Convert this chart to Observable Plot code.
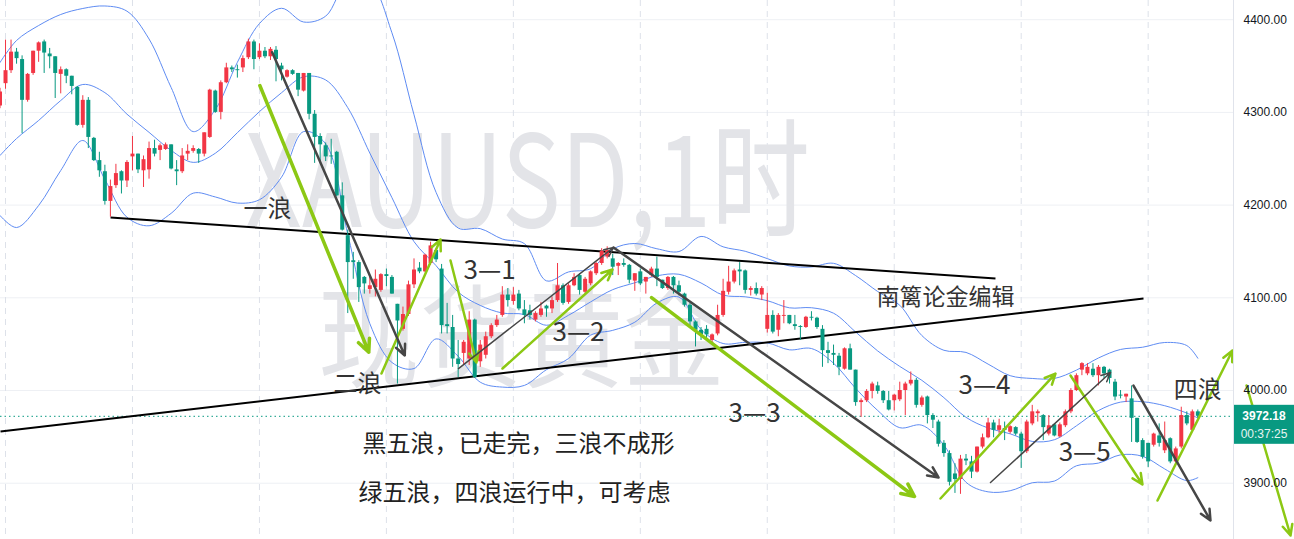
<!DOCTYPE html>
<html><head><meta charset="utf-8">
<script src="https://cdn.jsdelivr.net/npm/d3@7"></script>
<script src="https://cdn.jsdelivr.net/npm/@observablehq/plot@0.6"></script>
<style>
html,body{margin:0;padding:0;background:#fff;overflow:hidden}
#chart svg{display:block}
</style></head><body><div id="chart"></div>
<script>
// ---------- data (XAUUSD 1h candles) ----------
const opens = [4307,4331,4345,4365,4357,4313,4342,4366,4376,4363,4360,4341,4346,4339,4327,4286,4313,4272,4248,4236,
4204,4221,4236,4226,4252,4255,4237,4238,4261,4259,4260,4265,4238,4236,4255,4258,4260,4255,4273,4323,
4300,4332,4348,4346,4348,4359,4376,4359,4366,4360,4367,4350,4338,4345,4342,4323,4342,4298,4274,4264,
4253,4257,4210,4167,4140,4138,4122,4109,4111,4108,4125,4122,4093,4066,4082,4114,4132,4128,4137,4151,
4131,4071,4068,4034,4040,4034,4076,4031,4038,4058,4070,4081,4103,4096,4104,4087,4086,4076,4081,4091,
4088,4097,4113,4095,4113,4124,4106,4115,4126,4137,4144,4142,4134,4137,4135,4118,4128,4117,4124,4131,
4119,4110,4122,4113,4104,4092,4074,4065,4066,4054,4061,4081,4106,4117,4130,4129,4108,4110,4103,4066,
4081,4065,4080,4081,4071,4069,4068,4079,4078,4066,4043,4040,4037,4023,4045,4022,3987,3989,3999,4005,
3999,3989,3989,3990,4000,4007,4011,3984,3993,3973,3966,3943,3932,3910,3904,3926,3923,3912,3939,3949,
3965,3957,3959,3955,3960,3953,3934,3964,3975,3973,3953,3963,3950,3962,3977,4000,4022,4018,4023,4016,
4025,4022,4009,3995,3993,3991,3970,3946,3943,3941,3951,3935,3948,3923,3939,3973,3957,3977];
const highs = [4326,4378,4378,4369,4361,4342,4366,4376,4378,4369,4360,4349,4347,4339,4328,4318,4316,4273,4257,4243,
4227,4244,4237,4248,4274,4255,4253,4268,4270,4266,4267,4265,4248,4261,4265,4264,4261,4278,4325,4324,
4334,4353,4350,4351,4361,4379,4378,4374,4370,4370,4371,4353,4346,4346,4342,4342,4342,4302,4277,4267,
4271,4258,4224,4173,4149,4140,4123,4122,4130,4126,4131,4124,4093,4090,4118,4142,4138,4147,4160,4153,
4136,4094,4081,4054,4054,4085,4077,4054,4063,4072,4081,4112,4110,4111,4108,4097,4092,4085,4095,4092,
4101,4137,4115,4115,4126,4126,4122,4129,4138,4153,4155,4147,4138,4142,4136,4126,4131,4122,4133,4144,
4119,4123,4123,4118,4105,4094,4075,4068,4070,4061,4092,4120,4134,4131,4138,4130,4112,4116,4112,4105,
4086,4083,4097,4081,4081,4070,4080,4085,4079,4070,4052,4049,4040,4046,4050,4022,3991,4001,4009,4009,
4000,3999,3996,4009,4009,4020,4013,3994,3994,3975,3968,3946,3935,3921,3930,3931,3929,3939,3953,3970,
3968,3969,3966,3962,3961,3955,3968,3984,3979,3974,3973,3964,3965,3979,4002,4018,4030,4029,4029,4027,
4026,4023,4012,4000,3996,4005,3970,3948,3943,3954,3964,3966,3949,3939,3982,3977,3979,3979];
const lows = [4304,4325,4342,4352,4277,4311,4340,4354,4342,4347,4315,4320,4331,4319,4285,4283,4261,4247,4230,4200,
4187,4218,4212,4219,4237,4234,4219,4228,4252,4248,4259,4238,4221,4234,4248,4256,4245,4252,4272,4299,
4292,4331,4343,4337,4343,4357,4346,4357,4358,4356,4333,4334,4337,4340,4317,4322,4292,4245,4245,4247,
4244,4209,4172,4083,4120,4095,4104,4104,4101,4106,4112,4104,4007,4064,4080,4110,4126,4127,4135,4138,
4061,4061,4025,4014,4027,4027,4013,4025,4034,4056,4068,4079,4090,4092,4086,4072,4076,4074,4079,4079,
4083,4095,4092,4093,4112,4103,4104,4113,4124,4135,4142,4124,4124,4133,4115,4107,4113,4104,4122,4112,
4109,4108,4104,4102,4090,4070,4047,4054,4054,4050,4059,4079,4103,4115,4113,4104,4102,4102,4097,4062,
4061,4058,4072,4071,4065,4054,4067,4075,4066,4025,4029,4027,4016,4022,4022,3983,3971,3987,3991,3996,
3986,3978,3978,3988,3973,4005,3981,3982,3964,3959,3939,3928,3897,3889,3888,3919,3905,3911,3937,3948,
3949,3953,3946,3953,3951,3916,3932,3962,3966,3946,3951,3950,3949,3960,3975,3999,4016,4016,4014,4005,
4013,4007,3989,3991,3987,3944,3943,3926,3917,3939,3939,3932,3921,3921,3937,3962,3955,3970];
const closes = [4322,4345,4365,4358,4313,4341,4366,4375,4364,4360,4342,4346,4339,4328,4286,4313,4273,4248,4237,4204,
4220,4234,4226,4246,4255,4238,4249,4261,4255,4264,4265,4239,4236,4253,4258,4261,4255,4278,4324,4300,
4332,4348,4346,4345,4358,4376,4357,4366,4360,4368,4357,4346,4345,4341,4324,4342,4298,4273,4265,4252,
4252,4210,4173,4138,4138,4111,4115,4113,4120,4125,4123,4104,4075,4082,4114,4130,4128,4146,4156,4141,
4070,4069,4034,4028,4052,4076,4014,4049,4058,4070,4076,4103,4097,4103,4088,4081,4081,4083,4088,4088,
4097,4113,4094,4113,4122,4108,4120,4128,4137,4150,4151,4133,4137,4135,4119,4126,4115,4122,4131,4122,
4110,4122,4113,4106,4092,4074,4065,4060,4060,4060,4081,4107,4117,4129,4128,4108,4110,4104,4110,4081,
4063,4081,4081,4072,4069,4068,4079,4078,4068,4043,4040,4038,4025,4045,4022,3987,3989,3999,4007,3999,
3989,3979,3995,4000,4007,4011,3984,3992,3973,3968,3942,3932,3901,3904,3926,3924,3912,3939,3949,3965,
3957,3962,3957,3961,3953,3934,3966,3977,3977,3960,3962,3951,3963,3977,4000,4016,4029,4025,4016,4025,
4018,4013,3993,3994,3996,3970,3944,3928,3923,3953,3943,3946,3923,3937,3973,3964,3977,3972.18];
const lastPrice = 3972.18;
const countdown = "00:37:25";
const dayStarts = [1,24,47,70,93,116,139,162,185,208];
const priceTicks = [3900,4000,4100,4200,4300,4400];

const bbIndex  = [0,3,7,11,15,19,23,27,31,35,39,43,47,51,55,59,63,67,71,75,79,83,87,91,95,99,103,107,111,115,119,123,127,131,135,139,143,147,151,155,159,163,167,171,175,179,183,187,191,195,199,203,207,211,215,217];
const bbUpper  = [4353.8,4377.6,4393.7,4405.6,4412.1,4414.8,4409.2,4379.2,4326.9,4279.3,4303.0,4354.0,4395.8,4412.3,4397.5,4403.8,4441.4,4440.0,4385.9,4297.4,4213.7,4175.3,4174.6,4163.4,4158.4,4118.3,4127.9,4131.4,4152.6,4158.6,4152.9,4149.9,4166.2,4155.0,4150.2,4142.3,4134.4,4133.3,4137.2,4124.0,4106.8,4092.0,4059.3,4043.4,4041.1,4028.5,4016.0,4013.0,4013.0,4022.0,4035.1,4044.3,4046.7,4051.8,4048.5,4034.8];
const bbMiddle = [4253.5,4271.8,4291.3,4312.8,4330.1,4321.3,4298.1,4278.5,4259.0,4246.1,4255.9,4278.1,4300.8,4321.2,4338.4,4335.0,4305.1,4256.1,4208.1,4160.6,4134.7,4106.1,4091.8,4083.6,4082.0,4070.4,4081.2,4095.6,4108.8,4116.2,4123.7,4125.4,4116.0,4102.9,4101.1,4096.9,4089.2,4089.3,4083.4,4063.2,4042.7,4026.0,4011.0,3992.3,3971.1,3959.6,3953.3,3945.1,3946.9,3961.9,3978.4,3987.5,3987.9,3983.6,3975.7,3970.4];
const bbLower  = [4188.8,4175.8,4199.6,4237.3,4269.7,4227.7,4186.9,4177.7,4191.1,4212.9,4208.8,4202.2,4205.8,4230.1,4279.3,4266.1,4168.7,4072.1,4030.3,4023.7,4055.7,4036.9,4009.0,4003.7,4005.5,4022.5,4034.5,4059.7,4064.9,4073.7,4094.4,4100.8,4065.8,4050.7,4052.0,4051.4,4043.9,4045.3,4029.5,4002.4,3978.5,3959.9,3962.6,3941.1,3901.0,3890.7,3891.9,3900.5,3902.3,3918.8,3921.7,3930.6,3929.0,3915.4,3902.8,3906.0];

// drawings: [startIndex, startPrice, endIndex, endPrice]
const trendLines       = [[20.02,4186.6,180.34,4120.8],[0.09,3955.8,207.16,4099.2]];
const greenArrowsThick = [[47.07,4329.0,66.81,4041.3],[118.03,4100.3,165.67,3885.7]];
const greenArrows      = [[69.11,4018.3,79.80,4162.9],[81.61,4140.2,86.32,4030.2],[91.03,4023.7,110.96,4130.5],
                          [170.38,3883.5,191.21,4018.3],[193.93,4016.2,206.97,3898.6],[209.69,3881.35,223.28,4043.2],
                          [225.82,4005.4,233.79,3843.6]];
const darkArrows       = [[49.31,4364.9,73.33,4037.8],[111.14,4154.3,170.02,3906.2],[205.34,4005.4,219.29,3859.8]];
const darkArrowsThin   = [[83.06,4023.7,111.14,4154.3],[179.44,3900.8,201.18,4019.4]];

const waveLabels  = ["一浪","二浪","3—1","3—2","3—3","3—4","3—5","四浪"];
const waveLabelX  = [48.46,64.76,88.68,104.8,136.7,178.35,196.5,217.0];
const waveLabelY  = [4195.2,4006.5,4129.5,4062.0,3975.2,4005.4,3933.1,4000.0];
const editorText  = ["南篱论金编辑"];
const editorX     = [171.3];
const editorY     = [4100.3];
const noteLines   = ["黑五浪，已走完，三浪不成形","绿五浪，四浪运行中，可考虑"];
const noteX       = [65.67,64.95];
const noteY       = [3941.8,3888.9];
const watermark   = ["XAUUSD,1时","现货黄金"];
const watermarkX  = [95.56,94.47];
const watermarkY  = [4221.1,4050.7];

// ---------- layout / style ----------
const W = 1294, H = 539, MR = 61;
const RED = "#f23645", TEAL = "#089981", BAND = "#5f8cf3", LIME = "#8cc814", DARK = "#464646";
const CJK = "'Noto Sans CJK SC', 'Noto Sans', sans-serif";
const barStep = 5.52;          // px per candle
const xDomain = [0.5 / barStep, (W - MR + 0.5) / barStep];
const yDomain = [3839.3, 4420.7];

const candles = closes.map((c, i) => ({i, open: opens[i], high: highs[i], low: lows[i], close: c}));
const ups = candles.filter(d => d.close >= d.open);
const downs = candles.filter(d => d.close < d.open);
const bands = bbIndex.map((i, k) => ({i, upper: bbUpper[k], middle: bbMiddle[k], lower: bbLower[k]}));
const toRows = (arr, labels) => arr.map((t, k) => ({text: t, x: labels[0][k], y: labels[1][k]}));
const arrowOpts = (stroke, strokeWidth, headLength) => ({
  x1: d => d[0], y1: d => d[1], x2: d => d[2], y2: d => d[3],
  stroke, strokeWidth, headLength, headAngle: 50
});

const chart = Plot.plot({
  width: W, height: H,
  marginLeft: 0, marginRight: MR, marginTop: 0, marginBottom: 0,
  x: {type: "linear", domain: xDomain, axis: null},
  y: {domain: yDomain, axis: null},
  style: {background: "#fff", fontFamily: "'Liberation Sans', Arial, sans-serif"},
  marks: [
    Plot.gridY(priceTicks, {stroke: "#eef0f4", strokeOpacity: 1}),
    Plot.ruleX(dayStarts, {stroke: "#dde1e9", strokeDasharray: "6,5"}),
    Plot.text(toRows(watermark, [watermarkX, watermarkY]), {
      x: "x", y: "y", text: "text", fill: "#e3e4e8", fontFamily: CJK,
      fontSize: d => d.text.startsWith("X") ? 128 : 112
    }),
    Plot.line(bands, {x: "i", y: "upper", stroke: BAND, strokeWidth: 1, curve: "catmull-rom"}),
    Plot.line(bands, {x: "i", y: "middle", stroke: BAND, strokeWidth: 1, curve: "catmull-rom"}),
    Plot.line(bands, {x: "i", y: "lower", stroke: BAND, strokeWidth: 1, curve: "catmull-rom"}),
    Plot.ruleY([lastPrice], {stroke: TEAL, strokeDasharray: "1.5,3", strokeWidth: 1}),
    Plot.link(trendLines, {x1: d => d[0], y1: d => d[1], x2: d => d[2], y2: d => d[3], stroke: "#000", strokeWidth: 2}),
    Plot.ruleX(ups, {x: "i", y1: "low", y2: "high", stroke: RED, strokeWidth: 1}),
    Plot.ruleX(downs, {x: "i", y1: "low", y2: "high", stroke: TEAL, strokeWidth: 1}),
    Plot.ruleX(ups, {x: "i", y1: "open", y2: "close", stroke: RED, strokeWidth: 4}),
    Plot.ruleX(downs, {x: "i", y1: "open", y2: "close", stroke: TEAL, strokeWidth: 4}),
    Plot.arrow(greenArrowsThick, arrowOpts(LIME, 3.5, 6)),
    Plot.arrow(greenArrows, arrowOpts(LIME, 2.5, 7)),
    Plot.arrow(darkArrows, arrowOpts(DARK, 2.5, 7)),
    Plot.arrow(darkArrowsThin, arrowOpts(DARK, 1.5, 10)),
    Plot.text(toRows(waveLabels, [waveLabelX, waveLabelY]), {
      x: "x", y: "y", text: "text", fill: "#333", fontFamily: CJK,
      fontSize: d => /^\d/.test(d.text) ? 26 : 24
    }),
    Plot.text(toRows(editorText, [editorX, editorY]), {x: "x", y: "y", text: "text", fill: "#333", fontFamily: CJK, fontSize: 23}),
    Plot.text(toRows(noteLines, [noteX, noteY]), {x: "x", y: "y", text: "text", fill: "#222", fontFamily: CJK, fontSize: 24, textAnchor: "start"}),
    Plot.ruleX([xDomain[1]], {stroke: "#e0e3eb"}),
    Plot.axisY(priceTicks, {anchor: "right", tickSize: 0, tickPadding: 10, tickFormat: d => d.toFixed(2), fontSize: 12, fill: "#131722"})
  ]
});
document.getElementById("chart").appendChild(chart);

// watermark squeezed to the width it takes in the picture
const wmWidths = {"XAUUSD,1时": 565, "现货黄金": 407};
d3.select(chart).selectAll("text").each(function() {
  const t = this.textContent;
  if (t in wmWidths) {
    this.setAttribute("textLength", wmWidths[t]);
    this.setAttribute("lengthAdjust", "spacingAndGlyphs");
  }
});

// last-price tag on the price scale
const yp = chart.scale("y").apply(lastPrice);
const tag = d3.select(chart).append("g");
const tagX = W - MR + 1, tagW = MR - 1;
tag.append("rect").attr("x", tagX).attr("y", yp - 11).attr("width", tagW).attr("height", 39).attr("fill", TEAL);
tag.append("text").attr("x", tagX + tagW / 2).attr("y", yp).attr("dy", "0.35em").attr("text-anchor", "middle")
  .attr("fill", "#fff").attr("font-weight", "bold").attr("font-size", 12).attr("font-family", "'Liberation Sans', Arial, sans-serif")
  .text(lastPrice.toFixed(2));
tag.append("text").attr("x", tagX + tagW / 2).attr("y", yp + 18).attr("dy", "0.35em").attr("text-anchor", "middle")
  .attr("fill", "#e6f4f1").attr("font-size", 12).attr("font-family", "'Liberation Sans', Arial, sans-serif")
  .text(countdown);
</script>
</body></html>
